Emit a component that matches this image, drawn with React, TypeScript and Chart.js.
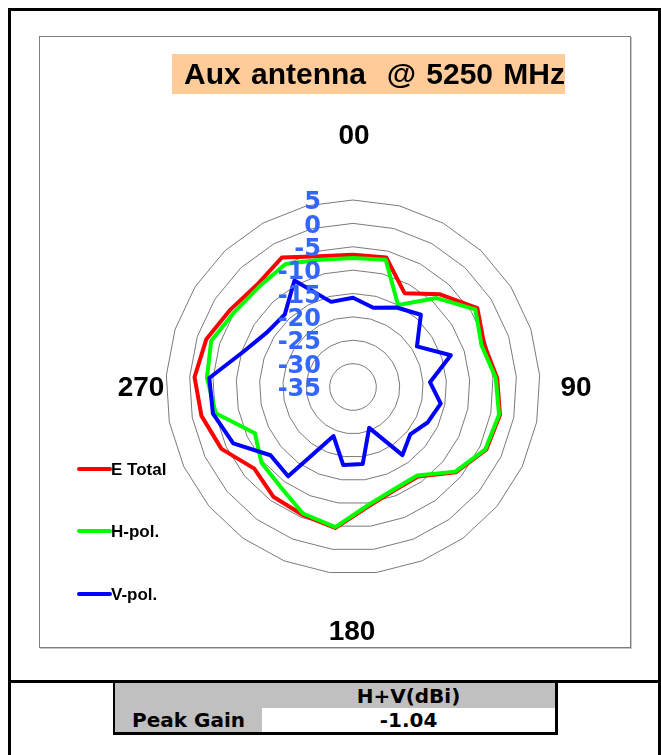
import React, { useEffect, useRef } from "react";
import { Chart, registerables } from "chart.js";

Chart.register(...registerables);

// Measurement angles in degrees (0..360 inclusive, 15° step)
const angleLabels = [
  "0", "15", "30", "45", "60", "75", "90", "105", "120", "135", "150", "165",
  "180", "195", "210", "225", "240", "255", "270", "285", "300", "315", "330", "345", "360",
];

// Gain in dBi at each angle
const eTotal = [
  -6.7, -6.4, -12.1, -7.8, -3.5, -5.5, -4.1, -3.0, -3.5, -6.4, -11.3, -11.2,
  -9.2, -4.6, -5.6, -6.0, -7.6, -3.9, -2.0, -1.04, -2.0, -4.0, -5.0, -3.4, -6.1,
];
const hPol = [
  -7.4, -6.9, -15.0, -8.9, -4.0, -6.1, -4.4, -3.2, -3.7, -6.6, -11.6, -11.4,
  -9.5, -4.8, -5.9, -8.6, -9.6, -11.8, -5.1, -3.7, -3.1, -5.0, -5.6, -5.0, -6.9,
];
const vPol = [
  -15.9, -17.5, -15.6, -13.8, -18.8, -13.0, -18.5, -15.9, -17.3, -19.1, -17.0, -25.6,
  -18.4, -18.2, -23.7, -11.4, -12.1, -6.7, -4.5, -4.2, -10.4, -13.2, -13.7, -9.0, -16.2,
];

const seriesNames = ["E Total", "H-pol.", "V-pol."];
const seriesColors = ["#FF0000", "#00FF00", "#0000FF"];

// Radial axis labels
const radialTicks = [5, 0, -5, -10, -15, -20, -25, -30, -35];
const axisMin = -35;
const axisMax = 5;

// Compass labels around the plot
const compassLabels = ["00", "90", "180", "270"];

const titleText = "Aux antenna  @ 5250 MHz";
const tableHeader = "H+V(dBi)";
const tableRowLabel = "Peak Gain";
const peakGain = "-1.04";

const labelsPlugin = {
  id: "radarLabels",
  afterDatasetsDraw(chart: any) {
    const ctx = chart.ctx;
    const s = chart.scales.r;
    const cx = s.xCenter;
    const cy = s.yCenter;
    const R = s.drawingArea;
    ctx.save();

    // radial value labels, stacked above the centre
    ctx.font = 'bold 24px "DejaVu Sans"';
    ctx.fillStyle = "#3366FF";
    ctx.textAlign = "right";
    ctx.textBaseline = "middle";
    radialTicks.forEach((v) => {
      ctx.fillText(String(v), cx - 32, cy - s.getDistanceFromCenterForValue(v) + 3);
    });

    // compass labels
    ctx.font = 'bold 28px "Liberation Sans", Arial';
    ctx.fillStyle = "#000";
    ctx.textAlign = "center";
    ctx.fillText(compassLabels[0], cx + 1, cy - R - 64);
    ctx.fillText(compassLabels[1], cx + R + 36, cy + 1);
    ctx.fillText(compassLabels[2], cx - 1, cy + R + 58);
    ctx.fillText(compassLabels[3], cx - R - 25, cy + 1);

    // legend
    const legendX = 38;
    const legendY = [432, 494, 557];
    ctx.font = 'bold 17px "Liberation Sans", Arial';
    ctx.textAlign = "left";
    seriesNames.forEach((name, i) => {
      ctx.strokeStyle = seriesColors[i];
      ctx.lineWidth = 4;
      ctx.lineCap = "round";
      ctx.beginPath();
      ctx.moveTo(legendX + 1, legendY[i]);
      ctx.lineTo(legendX + 32, legendY[i]);
      ctx.stroke();
      ctx.fillStyle = "#000";
      ctx.fillText(name, legendX + 33, legendY[i] + 1);
    });
    ctx.restore();
  },
};

export default function App() {
  const canvasRef = useRef<HTMLCanvasElement | null>(null);

  useEffect(() => {
    if (!canvasRef.current) return;
    const series = [eTotal, hPol, vPol];
    const chart = new Chart(canvasRef.current, {
      type: "radar",
      data: {
        labels: angleLabels,
        datasets: series.map((values, i) => ({
          label: seriesNames[i],
          data: values,
          borderColor: seriesColors[i],
          backgroundColor: seriesColors[i],
          borderWidth: 4,
          borderJoinStyle: "round",
          fill: false,
          pointRadius: 0,
          order: 3 - i,
        })),
      },
      options: {
        responsive: false,
        animation: false,
        layout: { padding: { left: 126, top: 163, right: 90, bottom: 73 } },
        plugins: { legend: { display: false }, tooltip: { enabled: false } },
        elements: { line: { tension: 0 } },
        scales: {
          r: {
            min: axisMin,
            max: axisMax,
            ticks: { display: false, stepSize: 5 },
            grid: { color: "#7a7a7a", lineWidth: 1, circular: false },
            angleLines: { display: false },
            pointLabels: { display: false },
          },
        },
      },
      plugins: [labelsPlugin],
    });
    return () => chart.destroy();
  }, []);

  const cellBase: React.CSSProperties = {
    position: "absolute",
    boxSizing: "border-box",
    display: "flex",
    alignItems: "center",
    justifyContent: "center",
    font: 'bold 20px "DejaVu Sans", Verdana',
    color: "#000",
  };

  return (
    <div
      style={{
        position: "fixed",
        left: 0,
        top: 0,
        width: 661,
        height: 755,
        overflow: "hidden",
        background: "#fff",
      }}
    >
      {/* outer frame */}
      <div
        style={{
          position: "absolute",
          left: 8,
          top: 8,
          width: 653,
          height: 800,
          border: "3px solid #000",
          boxSizing: "border-box",
        }}
      />
      <div style={{ position: "absolute", left: 8, top: 680, width: 653, height: 3, background: "#000" }} />

      {/* plot frame */}
      <div
        style={{
          position: "absolute",
          left: 39,
          top: 36,
          width: 592,
          height: 612,
          border: "1px solid #7f7f7f",
          boxShadow: "1px 1px 0 #c8c8c8",
          boxSizing: "border-box",
        }}
      />
      <canvas
        ref={canvasRef}
        width={590}
        height={610}
        style={{ position: "absolute", left: 40, top: 37, width: 590, height: 610 }}
      />

      {/* title */}
      <div
        style={{
          position: "absolute",
          left: 172,
          top: 54,
          width: 393,
          height: 40,
          background: "#FFCC99",
          font: 'bold 30px "Liberation Sans", Arial',
          color: "#000",
          lineHeight: "40px",
          paddingLeft: 12,
          wordSpacing: 2,
          boxSizing: "border-box",
          whiteSpace: "pre",
        }}
      >
        {titleText}
      </div>

      {/* peak gain table */}
      <div style={{ ...cellBase, left: 113, top: 683, width: 150, height: 26, background: "#C0C0C0", borderLeft: "2px solid #000", borderBottom: "1px solid #000", borderRight: "1px solid #000" }} />
      <div style={{ ...cellBase, left: 262, top: 683, width: 296, height: 26, background: "#C0C0C0", borderRight: "3px solid #000", borderBottom: "1px solid #000" }}>
        {tableHeader}
      </div>
      <div style={{ ...cellBase, left: 113, top: 708, width: 150, height: 27, background: "#C0C0C0", borderLeft: "2px solid #000", borderBottom: "3px solid #000", borderRight: "1px solid #000" }}>
        {tableRowLabel}
      </div>
      <div style={{ ...cellBase, left: 262, top: 708, width: 296, height: 27, background: "#fff", borderRight: "3px solid #000", borderBottom: "3px solid #000" }}>
        {peakGain}
      </div>
    </div>
  );
}
